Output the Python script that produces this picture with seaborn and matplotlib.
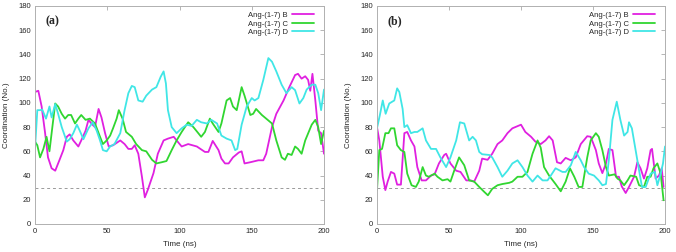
import numpy as np
import pandas as pd
import seaborn as sns
import matplotlib.pyplot as plt

# ---------- data ----------
# panel (a)
a_B_t = [0, 2.3, 4.6, 7, 9, 11.5, 14, 17, 19.6, 22, 24, 26.5, 30, 32, 35, 37, 39, 41.5, 44, 46, 48.5, 51, 54,
         59, 62, 64.6, 67, 69, 71.5, 74, 76, 78, 82, 85, 89, 92, 96, 98, 101.5, 106, 112, 117.6, 120, 123, 127,
         129, 131.5, 134, 137, 141, 143, 145, 149, 154.6, 158, 160, 164, 167, 172, 176, 180, 182, 184.5, 187,
         189, 190.5, 192, 194, 196, 198, 200]
a_B_v = [109, 110, 97, 75, 55, 46, 44, 53, 61, 72, 74, 69, 64, 69, 77, 86, 83, 80, 95, 88, 75, 64, 65,
         69, 66, 62, 62, 65, 58, 39, 22, 28, 42, 58, 69, 70.5, 72, 69, 64, 66, 64, 59.5, 59.5, 68.6, 61,
         54, 50, 50, 55, 59, 60, 50, 51, 52.6, 52.6, 58, 80, 91, 102, 113, 123, 124, 120, 122,
         119, 110, 124, 102, 77, 75, 58]

a_C_t = [0, 1.6, 3.5, 5.8, 8, 10, 11.5, 14, 16, 18.5, 20.8, 23, 25, 27.7, 30, 32, 35, 38, 41.5, 45, 47, 49.6,
         52, 54, 56.5, 58, 60.6, 63, 67, 70, 74, 77, 81, 84, 87.7, 91, 94.6, 98, 101.5, 106, 109.6, 113, 115,
         117.6, 121, 123, 127, 129, 132.6, 135, 137, 139.6, 143, 145, 149, 151, 153, 157, 160, 164, 167,
         170.7, 173, 175, 177.6, 180, 182, 184.5, 187, 191.5, 194, 196, 198, 200]
a_C_v = [68, 65, 55, 62, 72, 60, 75, 99.5, 97, 91, 87, 90, 90, 83, 87, 90, 86, 87, 83, 72, 66, 69,
         73, 79, 87, 94, 87, 76, 72, 66, 61, 60, 53, 50, 51, 52, 61, 69, 76, 84, 80, 75, 72,
         76, 87, 83, 76, 83, 102, 104, 97, 94, 113, 106, 90, 91, 95, 90, 87, 83, 69,
         55, 53, 58, 57, 64, 62, 58, 69, 82, 86, 80, 66, 77]

a_D_t = [0, 1.6, 3.5, 5, 7.6, 10, 11.5, 14, 16, 18.5, 22, 24, 26.5, 29, 31, 33.5, 37, 40, 42.7, 45, 47, 49.6,
         52, 55, 59, 62, 64.6, 67, 69, 71.5, 74.5, 77, 81, 84, 87, 89, 90.6, 92, 94.6, 98, 101.5, 105, 108.4,
         112, 115, 119, 122, 126, 129, 132.6, 136, 138.5, 140, 143, 146.5, 150, 152, 154.6, 158, 161.5,
         164, 167, 170.7, 174, 177.6, 180, 183, 185.7, 188, 191.5, 194, 196, 198, 200]
a_D_v = [62, 94, 94, 94.5, 87, 97, 88, 99, 91, 80, 68, 70, 75, 82, 77, 70, 79, 84, 77, 69, 61, 60,
         64, 66, 75, 94, 108, 114, 113, 102, 101, 106, 111, 113, 121.6, 126, 116, 94, 80, 75, 79, 82, 81,
         86, 84, 83, 86, 83, 73, 70.5, 69, 61, 62, 82, 97, 104, 102, 104, 119, 137,
         134, 126, 115, 108, 113, 110.5, 99.5, 104, 111, 115, 115, 108, 94, 111]

# panel (b)
b_B_t = [0, 1.6, 4, 5.8, 7.4, 9.7, 12, 14, 16.6, 19, 21, 23.6, 26, 28, 31, 34, 37.5, 40, 43, 46.7, 48, 51,
         55, 58, 62, 65, 67.5, 71, 73, 76.8, 80, 83.7, 87, 90.6, 94, 100, 103, 107, 110, 113.7, 117, 119.5,
         122, 125, 127.6, 131, 134.6, 138, 141.5, 146, 148.4, 152, 154, 156.5, 159, 161, 163.5, 166, 168,
         170, 172.7, 175, 178.5, 180.8, 183, 185.4, 187.7, 190, 191, 193.5, 195.8, 197.7, 199]
b_B_v = [80, 69, 39, 28, 35, 43, 41.6, 32.5, 32.5, 75, 76, 69, 64, 47, 36, 36, 40, 41, 50, 57, 58, 50,
         44, 43, 36, 36, 35, 44, 54, 53, 58, 66, 69, 75, 79, 82, 76, 72, 68, 66, 69, 72.5,
         69, 51, 50, 54.6, 52.6, 55, 66, 72.5, 72, 61, 50, 42, 50, 62, 61, 39, 39,
         31, 25.6, 30.6, 39, 51, 46, 37.5, 46, 61, 62, 37.5, 40, 46, 30.6]

b_C_t = [0, 1.6, 3.5, 5.8, 8, 9.7, 12, 14, 16.6, 19, 21, 24, 27, 29, 31.7, 34, 36, 40, 42, 45.5, 49, 51,
         53.6, 57, 60.6, 64, 67.5, 71, 74.5, 77, 80, 83.7, 87, 91.8, 94, 97.6, 101, 104.5, 108, 111.5, 113.7,
         116, 119.5, 124, 127.6, 131, 134, 137, 140, 142.6, 146, 148.4, 152, 154, 156.5, 159, 161, 165,
         167, 169, 171.6, 174, 176, 180, 182, 185.4, 187.7, 190, 192, 194.7, 197, 199]
b_C_v = [28, 61, 62, 75, 75, 79, 79, 65, 61, 59.5, 41.6, 32, 30.6, 35, 47, 40, 39, 41.6, 39, 36, 37, 35,
         44, 55, 48.5, 36, 35, 30.6, 26.5, 23.7, 29, 32, 33, 34, 35, 39, 39, 43, 58, 69, 63,
         47, 40, 33, 27, 35, 46, 39, 30.6, 30.6, 55, 69, 75, 72, 61, 47, 40, 41,
         37.5, 36, 32, 36, 40, 39, 32, 30.6, 39, 39, 46, 50, 41.6, 19.6]

b_D_t = [0, 2, 4, 6, 8.5, 12, 14, 15.5, 17.8, 19, 21, 23.6, 26, 28, 31.7, 34, 37.5, 41, 44, 48, 51, 55,
         57.6, 60.6, 64, 66.4, 68.7, 71, 73, 78, 80, 83.7, 87, 90.6, 94, 97.6, 101, 104.5, 108, 111.5, 115,
         118.4, 120.7, 124, 128.8, 131, 134.6, 138, 141.5, 143.8, 147, 150.7, 154, 156.5, 159, 161, 163.5,
         166.5, 169, 171.6, 174, 175, 177, 180.8, 184, 186.6, 190, 193, 194.7, 197, 198.6, 200]
b_D_v = [79, 90, 102, 91, 99.5, 102, 112, 109, 95, 80, 81.6, 75, 76, 76, 79, 69, 62, 62, 55, 47, 55, 69,
         84, 83, 69, 72, 69, 59.5, 57.6, 57, 55, 47, 39, 44, 50, 52.6, 47, 40, 35, 40, 36,
         36, 40, 46, 43, 43, 48.5, 59.5, 52.6, 47, 41.6, 40, 36, 32, 33, 52.6, 86,
         101, 86, 73, 76, 84, 79, 52.6, 30.6, 30.6, 41.6, 43, 32, 41.6, 50, 64]

series_names = ["Ang-(1-7) B", "Ang-(1-7) C", "Ang-(1-7) D"]
series_colors = ["#e020e0", "#30d630", "#40e6e6"]
panel_tags = ["(a)", "(b)"]


def long_frame(parts):
    rows = []
    for name, (t, v) in zip(series_names, parts):
        rows.append(pd.DataFrame({"Time": t, "Coord": v, "Series": name}))
    return pd.concat(rows, ignore_index=True)


panels = [
    long_frame([(a_B_t, a_B_v), (a_C_t, a_C_v), (a_D_t, a_D_v)]),
    long_frame([(b_B_t, b_B_v), (b_C_t, b_C_v), (b_D_t, b_D_v)]),
]

sns.set_style("white")
plt.rcParams["font.family"] = ["Liberation Sans", "DejaVu Sans"]

fig = plt.figure(figsize=(6.76, 2.52), dpi=100)
ax_rects = [[35 / 676, 28 / 252, 289 / 676, 218 / 252],
            [377 / 676, 28 / 252, 288 / 676, 218 / 252]]

for rect, df, tag in zip(ax_rects, panels, panel_tags):
    ax = fig.add_axes(rect)
    sns.lineplot(data=df, x="Time", y="Coord", hue="Series", hue_order=series_names,
                 palette=series_colors, estimator=None, sort=False, linewidth=1.3, ax=ax)
    ax.axhline(30, color="#9a9a9a", linestyle=(0, (3, 3)), linewidth=0.7, zorder=0)

    ax.set_xlim(0, 200)
    ax.set_ylim(0, 180)
    ax.set_xticks(np.arange(0, 201, 50))
    ax.set_yticks(np.arange(0, 181, 20))
    ax.tick_params(direction="in", length=3, width=0.6, color="#aaaaaa",
                   labelsize=5.5, top=True, right=True, pad=3)
    for s in ax.spines.values():
        s.set_color("#b0b0b0")
        s.set_linewidth(0.7)
    ax.set_xlabel("Time (ns)", fontsize=5.8, labelpad=4)
    ax.set_ylabel("Coordination (No.)", fontsize=5.8, labelpad=6)

    ax.text(7, 167, tag, fontsize=8.5, fontweight="bold", va="center",
            family=["Liberation Serif", "DejaVu Serif"])

    leg = ax.legend(loc="upper right", bbox_to_anchor=(0.98, 0.995), frameon=False,
                    fontsize=5.5, markerfirst=False, handlelength=2.8,
                    labelspacing=0.15, handletextpad=0.6, borderaxespad=0.2)
    for line in leg.get_lines():
        line.set_linewidth(1.3)

fig.savefig("out.png", dpi=100)
